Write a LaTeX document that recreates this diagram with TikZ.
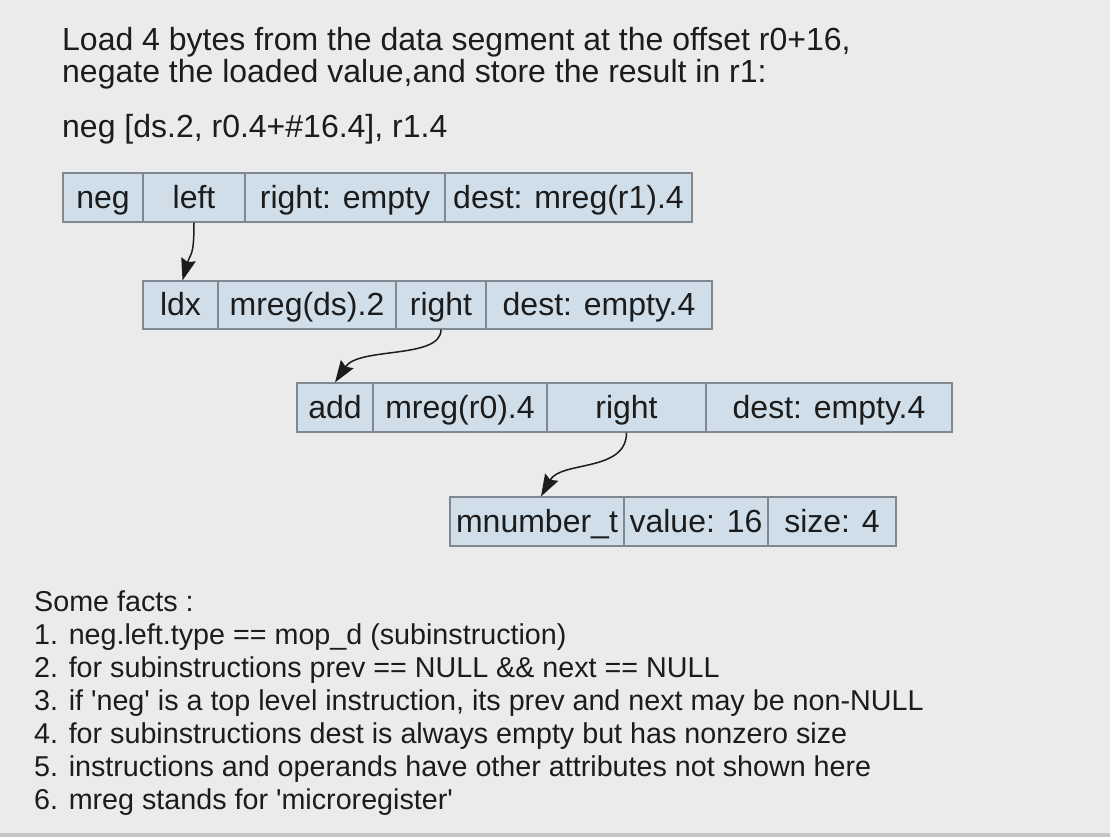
\documentclass[tikz,border=0pt]{standalone}
\usepackage{fontspec}
\setmainfont{Liberation Sans}
\usetikzlibrary{arrows.meta}
\definecolor{bg}{RGB}{235,235,235}
\definecolor{edge}{RGB}{198,198,198}
\definecolor{cellfill}{RGB}{207,222,233}
\definecolor{cellline}{RGB}{128,136,146}
\definecolor{ink}{RGB}{28,28,28}

% one cell of an instruction / operand record: name, x1, y1, x2, y2, text
\newcommand\cellbox[6]{%
  \node[cell, minimum width=#4pt-#2pt, minimum height=#5pt-#3pt]
    (#1) at ({(#2+#4)/2},{(#3+#5)/2}) {#6};}

\begin{document}
\begin{tikzpicture}[x=1pt,y=-1pt,
  cell/.style={draw=cellline, line width=1.1pt, fill=cellfill, inner sep=0pt,
    text=ink, font=\fontsize{32}{36}\selectfont,
    text height=23pt, text depth=2pt},
  headline/.style={anchor=base west, inner sep=0pt, text=ink,
    font=\fontsize{32}{36}\selectfont},
  fact/.style={anchor=base west, inner sep=0pt, text=ink,
    font=\fontsize{28.7}{33}\selectfont},
  link/.style={line width=1.5pt, draw=ink,
    -{Stealth[length=22pt,width=15pt,inset=3pt]}}]

% page
\fill[bg] (0,0) rectangle (1110,837);
\fill[edge] (0,833) rectangle (1110,837);
\useasboundingbox (0,0) rectangle (1110,837);

% description
\node[headline] (l1) at (62,51) {Load 4 bytes from the data segment at the offset r0+16,};
\node[headline] (l2) at (62,83) {negate the loaded value,and store the result in r1:};
\node[headline] (l3) at (62,138) {neg [ds.2, r0.4+\#16.4], r1.4};

% neg
\cellbox{negop}{63}{173}{143}{222}{neg}
\cellbox{negleft}{143}{173}{245}{222}{left}
\cellbox{negright}{245}{173}{445}{222}{right: empty}
\cellbox{negdest}{445}{173}{692}{222}{dest: mreg(r1).4}

% ldx
\cellbox{ldxop}{143}{281}{218}{329}{ldx}
\cellbox{ldxleft}{218}{281}{396}{329}{mreg(ds).2}
\cellbox{ldxright}{396}{281}{486}{329}{right}
\cellbox{ldxdest}{486}{281}{712}{329}{dest: empty.4}

% add
\cellbox{addop}{297}{383}{373}{432}{add}
\cellbox{addleft}{373}{383}{547}{432}{mreg(r0).4}
\cellbox{addright}{547}{383}{706}{432}{right}
\cellbox{adddest}{706}{383}{952}{432}{dest: empty.4}

% number operand
\cellbox{mnum}{450}{497}{624}{546}{mnumber\_t}
\cellbox{mval}{624}{497}{768}{546}{value: 16}
\cellbox{msize}{768}{497}{896}{546}{size: 4}

% operand links
\draw[link] (negleft.south) .. controls +(0,35) and +(8,-28) .. ([xshift=2pt]ldxop.north);
\draw[link] (ldxright.south) .. controls +(0,30) and +(24,-36) .. (addop.north);
\draw[link] (addright.south) .. controls +(0,40) and +(20,-36) .. ([xshift=4pt]mnum.north);

% facts
\node[fact] (f0) at (34,611) {Some facts :};
\node[fact] (f1) at (34,644) {1. neg.left.type == mop\_d (subinstruction)};
\node[fact] (f2) at (34,677) {2. for subinstructions prev == NULL \&\& next == NULL};
\node[fact] (f3) at (34,710) {3. if \textquotesingle neg\textquotesingle\ is a top level instruction, its prev and next may be non-NULL};
\node[fact] (f4) at (34,743) {4. for subinstructions dest is always empty but has nonzero size};
\node[fact] (f5) at (34,776) {5. instructions and operands have other attributes not shown here};
\node[fact] (f6) at (34,809) {6. mreg stands for \textquotesingle microregister\textquotesingle};
\end{tikzpicture}
\end{document}
